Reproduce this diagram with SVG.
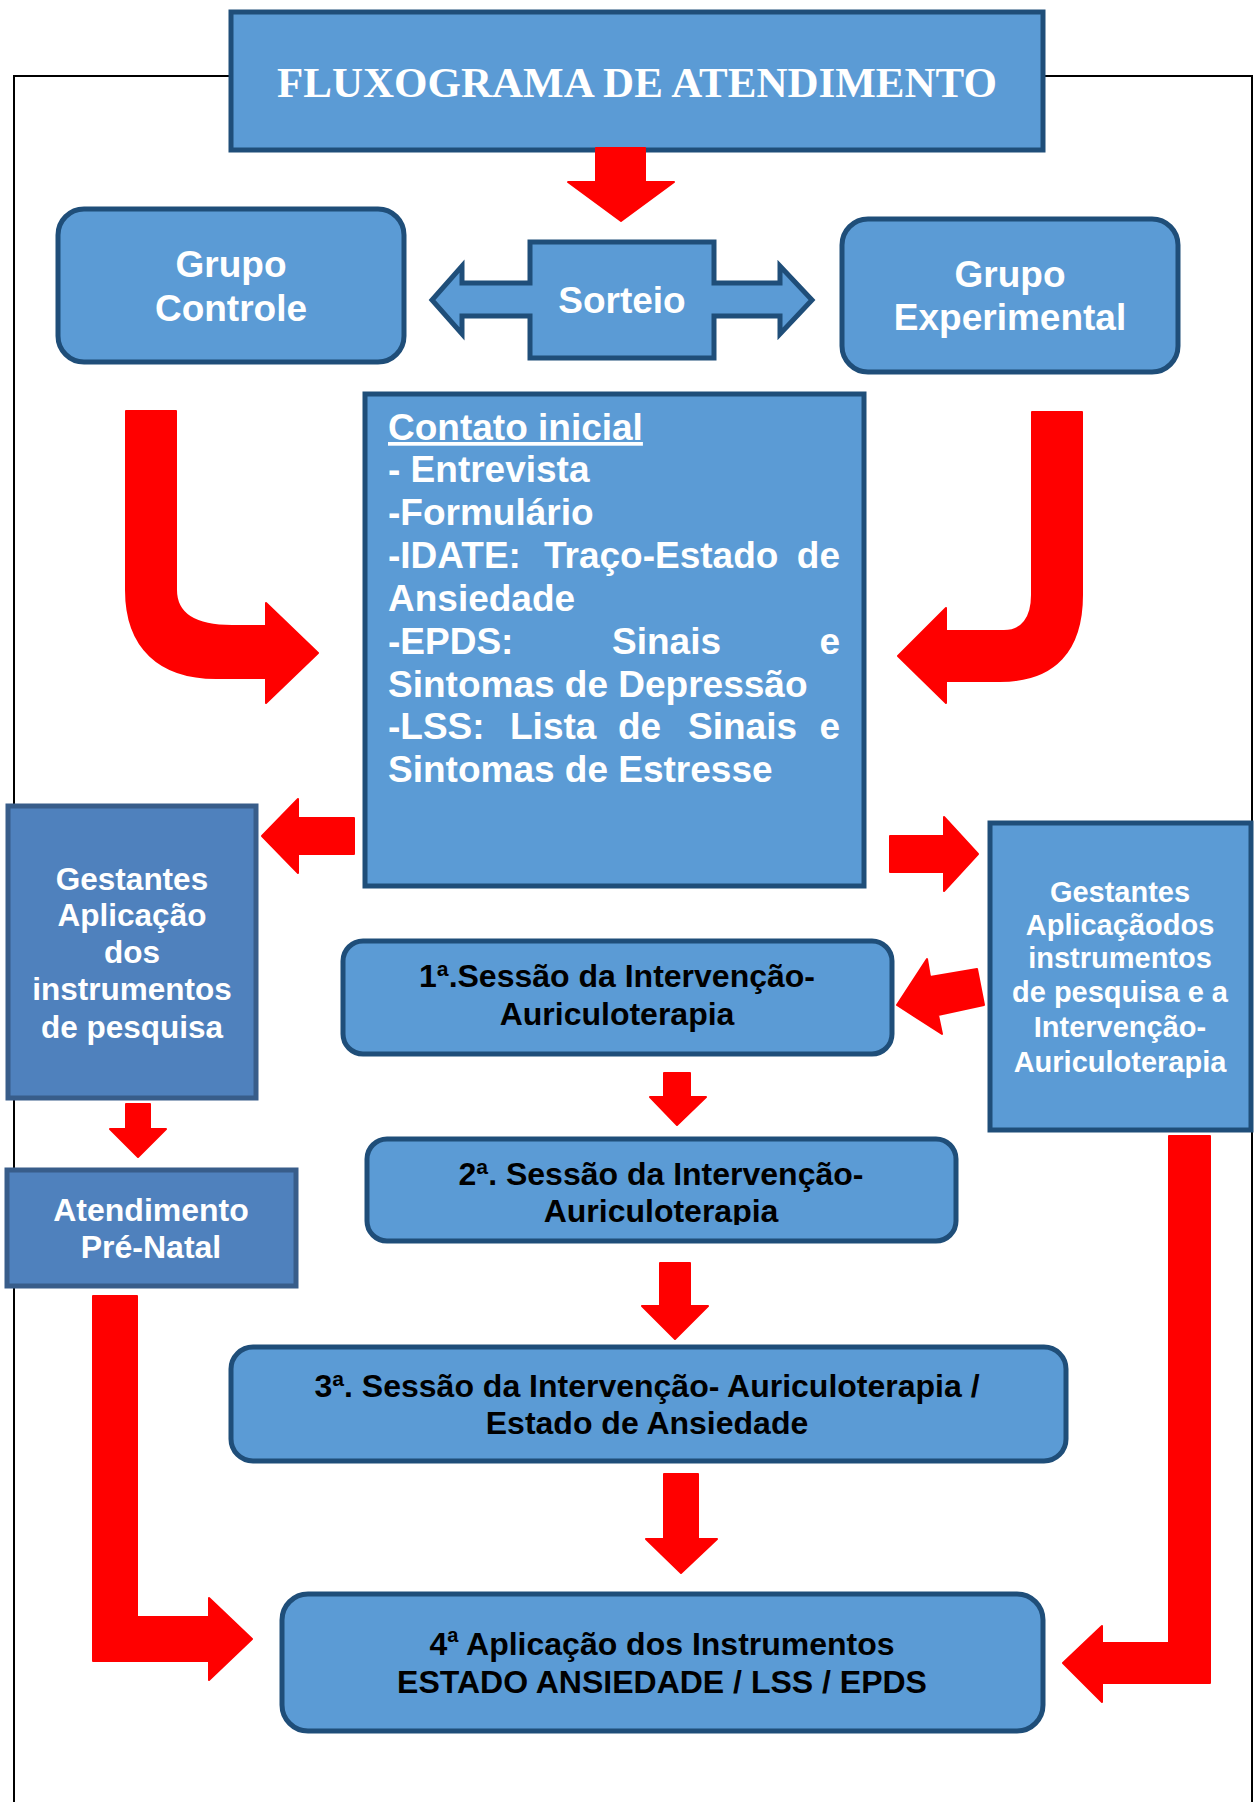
<svg xmlns="http://www.w3.org/2000/svg" width="1254" height="1802" viewBox="0 0 1254 1802">
  <defs>
    <style>
      .box { fill: #5B9BD5; stroke: #1F4E79; stroke-width: 5; }
      .dbox { fill: #4F81BD; stroke: #385D8A; stroke-width: 5; }
      .arrow { fill: #FF0000; stroke: #FF0000; stroke-width: 2; stroke-linejoin: round; }
      .wt { font-family: "Liberation Sans", Arial, sans-serif; font-weight: bold; fill: #FFFFFF; }
      .bt { font-family: "Liberation Sans", Arial, sans-serif; font-weight: bold; fill: #000000; }
      .c { text-anchor: middle; }
    </style>
    <clipPath id="clip2">
      <rect x="366" y="1137" width="590" height="88"/>
    </clipPath>
  </defs>
  <rect x="0" y="0" width="1254" height="1802" fill="#FFFFFF"/>

  <!-- outer frame -->
  <path d="M14,1802 L14,76 L1252,76 L1252,1802" fill="none" stroke="#000000" stroke-width="2"/>

  <g id="title">
    <rect class="box" x="231" y="12" width="812" height="138"/>
    <text x="637" y="97" font-family="'Liberation Serif', 'Times New Roman', serif" font-weight="bold" font-size="43" fill="#FFFFFF" text-anchor="middle">FLUXOGRAMA DE ATENDIMENTO</text>
  </g>

  <g id="grupo-controle">
    <rect class="box" x="58" y="209" width="346" height="153" rx="26"/>
    <text class="wt c" font-size="37" x="231" y="277">Grupo</text>
    <text class="wt c" font-size="37" x="231" y="321">Controle</text>
  </g>

  <g id="sorteio">
    <path class="box" d="M530,242 L714,242 L714,283 L780,283 L780,266 L812,300 L780,334 L780,316 L714,316 L714,358 L530,358 L530,316 L462,316 L462,334 L432,300 L462,266 L462,283 L530,283 Z"/>
    <text class="wt c" font-size="37" x="622" y="313">Sorteio</text>
  </g>

  <g id="grupo-experimental">
    <rect class="box" x="842" y="219" width="336" height="153" rx="26"/>
    <text class="wt c" font-size="37" x="1010" y="287">Grupo</text>
    <text class="wt c" font-size="37" x="1010" y="330">Experimental</text>
  </g>

  <g id="contato-inicial">
    <rect class="box" x="365" y="394" width="499" height="492"/>
    <text class="wt" font-size="37" x="388" y="440" text-decoration="underline">Contato inicial</text>
    <text class="wt" font-size="37" x="388" y="482">- Entrevista</text>
    <text class="wt" font-size="37" x="388" y="525">-Formulário</text>
    <text class="wt" font-size="37" y="568"><tspan x="388">-IDATE:</tspan><tspan x="544">Traço-Estado</tspan><tspan x="840" text-anchor="end">de</tspan></text>
    <text class="wt" font-size="37" x="388" y="611">Ansiedade</text>
    <text class="wt" font-size="37" y="654"><tspan x="388">-EPDS:</tspan><tspan x="612">Sinais</tspan><tspan x="840" text-anchor="end">e</tspan></text>
    <text class="wt" font-size="37" x="388" y="697">Sintomas de Depressão</text>
    <text class="wt" font-size="37" y="739"><tspan x="388">-LSS:</tspan><tspan x="510">Lista</tspan><tspan x="618">de</tspan><tspan x="688">Sinais</tspan><tspan x="840" text-anchor="end">e</tspan></text>
    <text class="wt" font-size="37" x="388" y="782">Sintomas de Estresse</text>
  </g>

  <g id="gestantes-controle">
    <rect class="dbox" x="8" y="806" width="248" height="292"/>
    <text class="wt c" font-size="31.5" x="132" y="890">Gestantes</text>
    <text class="wt c" font-size="31.5" x="132" y="926">Aplicação</text>
    <text class="wt c" font-size="31.5" x="132" y="963">dos</text>
    <text class="wt c" font-size="31.5" x="132" y="1000">instrumentos</text>
    <text class="wt c" font-size="31.5" x="132" y="1038">de pesquisa</text>
  </g>

  <g id="atendimento-pre-natal">
    <rect class="dbox" x="7" y="1170" width="289" height="116"/>
    <text class="wt c" font-size="32" x="151" y="1221">Atendimento</text>
    <text class="wt c" font-size="32" x="151" y="1258">Pré-Natal</text>
  </g>

  <g id="gestantes-experimental">
    <rect class="box" x="990" y="823" width="261" height="307"/>
    <text class="wt c" font-size="29" x="1120" y="902">Gestantes</text>
    <text class="wt c" font-size="29" x="1120" y="935">Aplicaçãodos</text>
    <text class="wt c" font-size="29" x="1120" y="968">instrumentos</text>
    <text class="wt c" font-size="29" x="1120" y="1002">de pesquisa e a</text>
    <text class="wt c" font-size="29" x="1120" y="1037">Intervenção-</text>
    <text class="wt c" font-size="29" x="1120" y="1072">Auriculoterapia</text>
  </g>

  <g id="sessao-1">
    <rect class="box" x="343" y="941" width="549" height="113" rx="20"/>
    <text class="bt c" font-size="32" x="617" y="987">1ª.Sessão da Intervenção-</text>
    <text class="bt c" font-size="32" x="617" y="1025">Auriculoterapia</text>
  </g>

  <g id="sessao-2">
    <rect class="box" x="367" y="1139" width="589" height="102" rx="20"/>
    <g clip-path="url(#clip2)">
      <text class="bt c" font-size="32" x="661" y="1185">2ª. Sessão da Intervenção-</text>
      <text class="bt c" font-size="32" x="661" y="1222">Auriculoterapia</text>
    </g>
  </g>

  <g id="sessao-3">
    <rect class="box" x="231" y="1347" width="835" height="114" rx="22"/>
    <text class="bt c" font-size="32" x="647" y="1397">3ª. Sessão da Intervenção- Auriculoterapia /</text>
    <text class="bt c" font-size="32" x="647" y="1434">Estado de Ansiedade</text>
  </g>

  <g id="aplicacao-4">
    <rect class="box" x="282" y="1594" width="761" height="137" rx="26"/>
    <text class="bt c" font-size="32" x="662" y="1655">4<tspan font-size="20" dy="-13">a</tspan><tspan dy="13"> Aplicação dos Instrumentos</tspan></text>
    <text class="bt c" font-size="32" x="662" y="1693">ESTADO ANSIEDADE / LSS / EPDS</text>
  </g>

  <g id="connectors">
    <path class="arrow" d="M596,148 L645,148 L645,182 L674,182 L621,221 L568,182 L596,182 Z"/>
    <path class="arrow" d="M126,411 L176,411 L176,590 C176,614 194,626 232,626 L266,626 L266,603 L318,653 L266,703 L266,678 L216,678 C160,678 126,648 126,590 Z"/>
    <path class="arrow" d="M1032,412 L1082,412 L1082,595 C1082,650 1055,681 1000,681 L946,681 L946,703 L898,656 L946,608 L946,631 L1004,631 C1022,631 1032,618 1032,595 Z"/>
    <path class="arrow" d="M354,818 L354,854 L298,854 L298,873 L262,836 L298,799 L298,818 Z"/>
    <path class="arrow" d="M890,836 L944,836 L944,817 L978,854 L944,891 L944,872 L890,872 Z"/>
    <path class="arrow" d="M126,1104 L150,1104 L150,1129 L166,1129 L138,1157 L110,1129 L126,1129 Z"/>
    <path class="arrow" d="M897,1005 L927,959 L930,977 L977,969 L984,1005 L938,1015 L942,1034 Z"/>
    <path class="arrow" d="M664,1073 L690,1073 L690,1097 L706,1097 L677,1125 L650,1097 L664,1097 Z"/>
    <path class="arrow" d="M660,1263 L690,1263 L690,1306 L708,1306 L675,1339 L642,1306 L660,1306 Z"/>
    <path class="arrow" d="M664,1474 L698,1474 L698,1539 L717,1539 L681,1573 L646,1539 L664,1539 Z"/>
    <path class="arrow" d="M93,1296 L137,1296 L137,1617 L209,1617 L209,1598 L252,1639 L209,1680 L209,1661 L93,1661 Z"/>
    <path class="arrow" d="M1169,1136 L1210,1136 L1210,1683 L1102,1683 L1102,1702 L1063,1663 L1102,1626 L1102,1643 L1169,1643 Z"/>
  </g>
</svg>
